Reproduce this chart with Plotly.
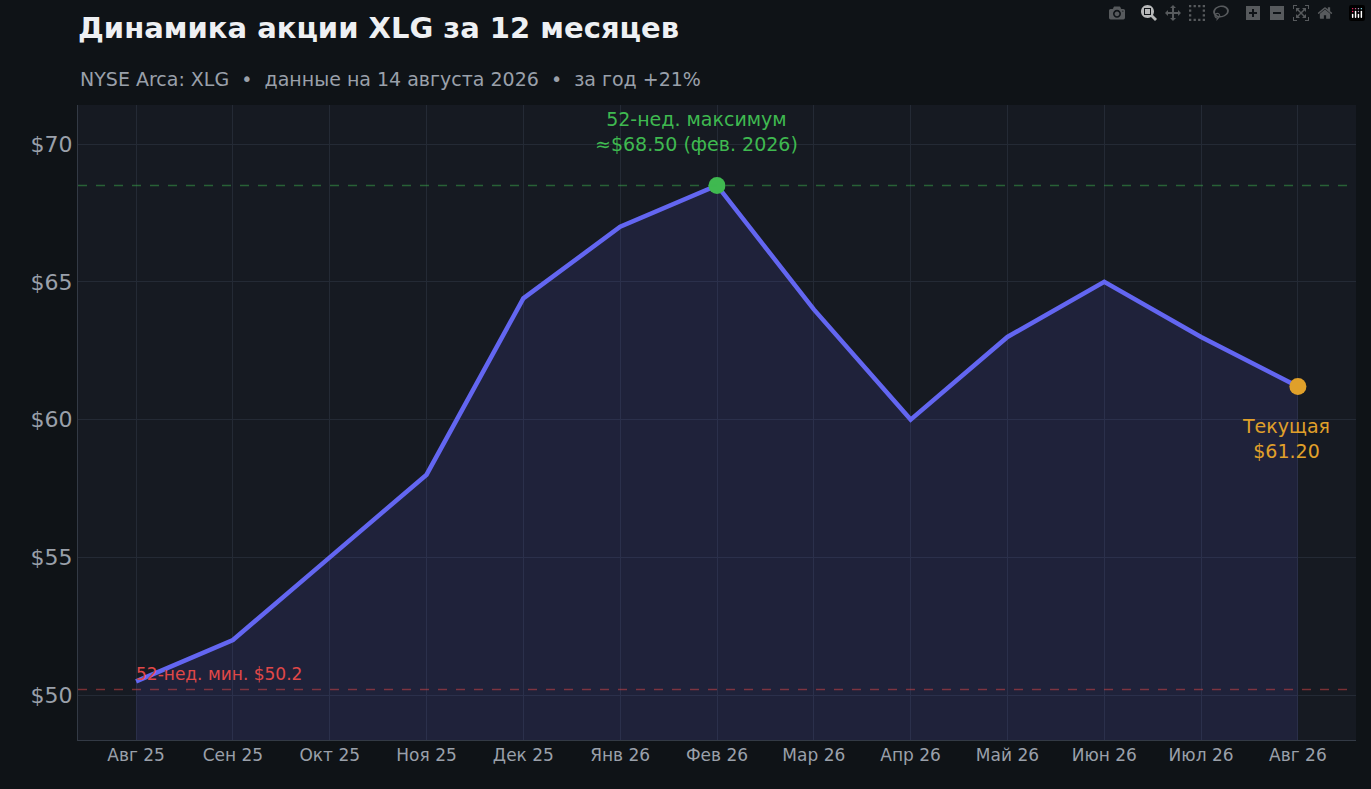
import plotly.graph_objects as go

months = ["Авг 25","Сен 25","Окт 25","Ноя 25","Дек 25","Янв 26","Фев 26","Мар 26","Апр 26","Май 26","Июн 26","Июл 26","Авг 26"]
prices = [50.5, 52.0, 55.0, 58.0, 64.4, 67.0, 68.5, 64.0, 60.0, 63.0, 65.0, 63.0, 61.2]
high_val = 68.5
low_val = 50.2
tick_vals = [50, 55, 60, 65, 70]
tick_text = ["$50", "$55", "$60", "$65", "$70"]

fig = go.Figure()
fig.add_trace(go.Scatter(x=months, y=prices, mode="lines", fill="tozeroy",
    fillcolor="rgba(99,102,241,0.12)", line=dict(color="#6366f1", width=4.5), hoverinfo="skip"))
fig.add_trace(go.Scatter(x=[months[6]], y=[high_val], mode="markers",
    marker=dict(color="#3fb950", size=17)))
fig.add_trace(go.Scatter(x=[months[-1]], y=[prices[-1]], mode="markers",
    marker=dict(color="#e0a02a", size=17)))

fig.add_hline(y=high_val, line=dict(color="rgba(63,185,80,0.45)", width=1.5, dash="dash"))
fig.add_hline(y=low_val, line=dict(color="rgba(220,70,70,0.5)", width=1.5, dash="dash"))

fig.add_annotation(x=months[6], y=high_val, text="52-нед. максимум<br>≈$68.50 (фев. 2026)",
    showarrow=False, yshift=54, xshift=-21, font=dict(color="#3fb950", size=19))
fig.add_annotation(x=months[-1], y=prices[-1], text="Текущая<br>$61.20",
    showarrow=False, yshift=-52, xshift=-12, font=dict(color="#e0a02a", size=19))
fig.add_annotation(x=months[0], y=low_val, text="52-нед. мин. $50.2",
    showarrow=False, xanchor="left", yshift=16, xshift=-2, font=dict(color="#e04848", size=17))

fig.update_layout(
    width=1371, height=789, showlegend=False,
    paper_bgcolor="#0f1317", plot_bgcolor="#161a22",
    margin=dict(l=78, r=15, t=105, b=49),
    font=dict(family="DejaVu Sans", color="#9aa0aa"),
    title=dict(text="<b>Динамика акции XLG за 12 месяцев</b>", x=0, xref="paper", xanchor="left",
               y=0.965, yanchor="middle", font=dict(size=29, color="#eef0f3")),
)
fig.add_annotation(xref="paper", yref="paper", x=0, y=1, xanchor="left", yanchor="bottom",
    yshift=13, showarrow=False, text="NYSE Arca: XLG  •  данные на 14 августа 2026  •  за год +21%",
    font=dict(size=19, color="#9aa0aa"))
fig.update_xaxes(range=[-0.6, 12.6], showgrid=True, gridcolor="#242a35", tickfont=dict(size=17),
    showline=True, linecolor="#333a45", ticks="", zeroline=False)
fig.update_yaxes(range=[48.37, 71.42], tickvals=tick_vals, ticktext=tick_text, showgrid=True,
    gridcolor="#242a35", tickfont=dict(size=22), zeroline=False, showline=True, linecolor="#333a45")
fig.write_html("out.html")

with open("out.html", encoding="utf-8") as f:
    html = f.read()
html = html.replace("<head>", "<head><style>html,body{margin:0;padding:0;background:#0f1317;}</style>", 1)
with open("out.html", "w", encoding="utf-8") as f:
    f.write(html)
